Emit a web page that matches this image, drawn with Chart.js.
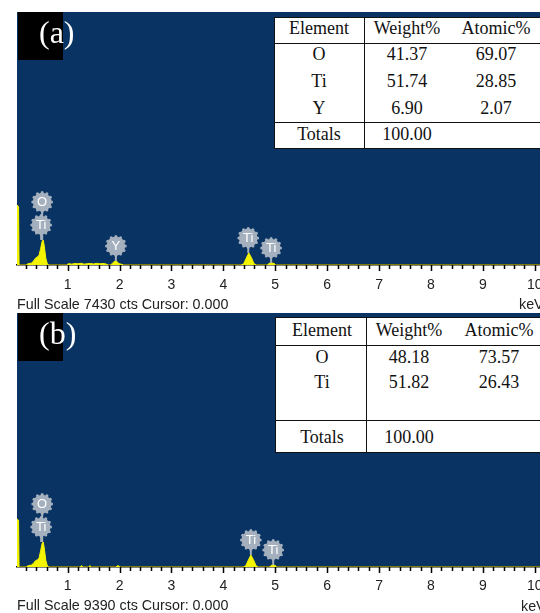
<!DOCTYPE html>
<html>
<head>
<meta charset="utf-8">
<script src="https://cdn.jsdelivr.net/npm/chart.js@4.4.1/dist/chart.umd.min.js"></script>
<style>
  html, body { margin: 0; padding: 0; background: #fff; }
  body { width: 540px; height: 613px; position: relative; overflow: hidden; }
  canvas { position: absolute; left: 0; }
  .tag { position: absolute; background: #000; color: #fff; font: 32px "Liberation Serif", "Times New Roman", serif; z-index: 3; }
  .tag span { position: absolute; left: 21px; top: 0px; line-height: 40px; }
  .cap { position: absolute; font: 14.3px "Liberation Sans", Arial, sans-serif; color: #222; white-space: nowrap; line-height: 16px; z-index: 3; }
  .tbl { position: absolute; background: #fff; border: 1px solid #111; z-index: 3; box-sizing: border-box; }
  .rule { position: absolute; background: #111; }
  .cell { position: absolute; font: 18px "Liberation Serif", "Times New Roman", serif; color: #111; white-space: nowrap; line-height: 20px; transform: translate(-50%, -50%); }
</style>
</head>
<body>
<canvas id="specA" width="540" height="308" style="top:0px"></canvas>
<canvas id="specB" width="540" height="305" style="top:308px"></canvas>

<div class="tag" style="left:18px;top:12px;width:45px;height:48px"><span>(a)</span></div>
<div class="tag" style="left:18px;top:313px;width:45px;height:48px"><span>(b)</span></div>

<div class="cap" style="left:17px;top:296px">Full Scale 7430 cts Cursor: 0.000</div>
<div class="cap" style="left:519px;top:296px">keV</div>
<div class="cap" style="left:17px;top:597px">Full Scale 9390 cts Cursor: 0.000</div>
<div class="cap" style="left:521px;top:598px">keV</div>

<div id="tableA"></div>
<div id="tableB"></div>

<script>
// ---- Spectrum (a): energy (keV) and counts ----
const energyA = [0.025, 0.055, 0.065, 0.10, 0.20, 0.24, 0.30, 0.34, 0.38, 0.42, 0.45, 0.48, 0.51, 0.53, 0.55, 0.58, 0.61, 0.64,
                 0.98, 1.02, 1.08, 1.14, 1.20, 1.26, 1.32, 1.38, 1.44, 1.50, 1.56, 1.62, 1.68, 1.74, 1.78,
                 1.82, 1.86, 1.89, 1.92, 1.95, 1.99, 2.04, 2.08,
                 4.34, 4.39, 4.44, 4.49, 4.54, 4.59, 4.64,
                 4.85, 4.88, 4.93, 4.98, 5.01, 10.1];
const countsA = [1760, 1720, 0, 0, 0, 40, 55, 110, 200, 240, 290, 480, 700, 735, 560, 200, 30, 0,
                 0, 40, 25, 45, 35, 50, 25, 40, 45, 30, 50, 35, 45, 30, 0,
                 0, 40, 95, 120, 100, 40, 20, 0,
                 0, 30, 200, 355, 220, 40, 0,
                 0, 50, 60, 45, 0, 0];
const fullScaleA = 7430;

// ---- Spectrum (b) ----
const energyB = [0.025, 0.055, 0.065, 0.10, 0.20, 0.24, 0.30, 0.34, 0.38, 0.42, 0.45, 0.48, 0.51, 0.53, 0.55, 0.58, 0.61, 0.64,
                 1.24, 1.27, 1.30, 1.40, 1.43, 1.46, 1.93, 1.97, 2.01,
                 4.38, 4.43, 4.48, 4.53, 4.58, 4.63, 4.67,
                 4.89, 4.92, 4.96, 5.00, 5.03, 10.1];
const countsB = [1775, 1730, 0, 0, 0, 50, 70, 130, 230, 270, 330, 600, 880, 925, 700, 250, 40, 0,
                 0, 50, 0, 0, 50, 0, 0, 55, 0,
                 0, 40, 250, 445, 270, 50, 0,
                 0, 60, 75, 55, 0, 0];
const fullScaleB = 9390;

// ---- Element markers: symbol, energy (keV), stack level above the peak ----
const markersA = [
  { el: 'Ti', keV: 0.49, level: 0 }, { el: 'O', keV: 0.51, level: 1 },
  { el: 'Y', keV: 1.93, level: 0 },
  { el: 'Ti', keV: 4.48, level: 0 }, { el: 'Ti', keV: 4.92, level: 0 }
];
const markersB = [
  { el: 'Ti', keV: 0.49, level: 0 }, { el: 'O', keV: 0.51, level: 1 },
  { el: 'Ti', keV: 4.53, level: 0 }, { el: 'Ti', keV: 4.96, level: 0 }
];

// ---- Axis ticks ----
const majorKeV = [1, 2, 3, 4, 5, 6, 7, 8, 9, 10];
const minorStep = 0.2;

// ---- Quantification tables ----
const tableHeader = ['Element', 'Weight%', 'Atomic%'];
const elementsA = ['O', 'Ti', 'Y'];
const weightA = ['41.37', '51.74', '6.90'];
const atomicA = ['69.07', '28.85', '2.07'];
const totalA = '100.00';
const elementsB = ['O', 'Ti'];
const weightB = ['48.18', '51.82'];
const atomicB = ['73.57', '26.43'];
const totalB = '100.00';

const PANEL_BLUE = '#093363';
const SPEC_YELLOW = '#f4f400';
const MARK_GREY = '#a5b0be';

function tickList() {
  const list = [];
  for (let i = 1; i * minorStep <= 10.0001; i++) list.push(+(i * minorStep).toFixed(2));
  return list;
}
function isMajor(v) { return majorKeV.some(m => Math.abs(m - v) < 1e-6); }

// blue plot panel behind the spectrum
const panelPlugin = {
  id: 'panel',
  beforeDraw(chart) {
    const { ctx, chartArea: a } = chart;
    ctx.save();
    ctx.fillStyle = PANEL_BLUE;
    ctx.fillRect(a.left, a.top, a.right - a.left, a.bottom - a.top);
    ctx.restore();
  }
};

// major / minor tick marks hanging below the axis line
const tickPlugin = {
  id: 'keVTicks',
  afterDraw(chart) {
    const xs = chart.scales.x, ctx = chart.ctx;
    ctx.save();
    ctx.strokeStyle = '#000';
    ctx.lineWidth = 1.5;
    ctx.beginPath();
    xs.ticks.forEach(t => {
      const px = Math.round(xs.getPixelForValue(t.value)) + 0.5;
      ctx.moveTo(px, xs.top);
      ctx.lineTo(px, xs.top + (isMajor(t.value) ? 6 : 4));
    });
    ctx.stroke();
    ctx.restore();
  }
};

// element badges with stems down to the peak
function markerPlugin(markers) {
  return {
    id: 'markers',
    afterDatasetsDraw(chart) {
      const ctx = chart.ctx, xs = chart.scales.x, ys = chart.scales.y;
      const ds = chart.data.datasets[0].data;
      const placed = markers.map(m => {
        let peak = 0;
        ds.forEach(p => { if (Math.abs(p.x - m.keV) <= 0.07 && p.y > peak) peak = p.y; });
        const px = xs.getPixelForValue(m.keV);
        const foot = ys.getPixelForValue(peak);
        return { m, px, foot, cy: foot - 15 - m.level * 23 };
      });
      ctx.save();
      ctx.strokeStyle = MARK_GREY;
      ctx.lineWidth = 2;
      placed.forEach(p => {
        ctx.beginPath();
        ctx.moveTo(p.px, p.cy);
        ctx.lineTo(p.px, p.foot);
        ctx.stroke();
      });
      placed.forEach(p => {
        ctx.fillStyle = MARK_GREY;
        ctx.beginPath();
        ctx.arc(p.px, p.cy, 9.3, 0, Math.PI * 2);
        ctx.fill();
        for (let k = 0; k < 12; k++) {
          const a = k * Math.PI / 6;
          ctx.beginPath();
          ctx.arc(p.px + Math.cos(a) * 9.4, p.cy + Math.sin(a) * 9.4, 1.5, 0, Math.PI * 2);
          ctx.fill();
        }
        ctx.fillStyle = '#fff';
        ctx.font = '13px "Liberation Sans", Arial, sans-serif';
        ctx.textAlign = 'center';
        ctx.textBaseline = 'middle';
        ctx.fillText(p.m.el, p.px, p.cy + 0.5);
      });
      ctx.restore();
    }
  };
}

function makeSpectrum(canvasId, energy, counts, fullScale, markers, areaTop, axisH, labelPad) {
  const points = energy.map((e, i) => ({ x: e, y: counts[i] }));
  return new Chart(document.getElementById(canvasId), {
    type: 'line',
    data: {
      datasets: [{
        data: points,
        borderColor: SPEC_YELLOW,
        backgroundColor: SPEC_YELLOW,
        borderWidth: 1,
        fill: 'origin',
        pointRadius: 0,
        tension: 0
      }]
    },
    options: {
      responsive: false,
      animation: false,
      devicePixelRatio: 1,
      layout: { padding: { left: 17, right: 0, top: areaTop, bottom: 0 } },
      plugins: { legend: { display: false }, tooltip: { enabled: false } },
      scales: {
        x: {
          type: 'linear', min: 0.025, max: 10.1, z: 1,
          afterBuildTicks(s) { s.ticks = tickList().map(v => ({ value: v })); },
          afterFit(s) { s.height = axisH; s.paddingLeft = 0; s.paddingRight = 0; },
          grid: { display: false, drawTicks: false, drawOnChartArea: false },
          border: { display: true, color: '#000', width: 1.5 },
          ticks: {
            autoSkip: false, maxRotation: 0, minRotation: 0, padding: labelPad,
            color: '#222',
            font: { family: '"Liberation Sans", Arial, sans-serif', size: 14 },
            callback(v) { return isMajor(v) ? String(Math.round(v)) : ''; }
          }
        },
        y: { display: false, min: 0, max: fullScale }
      }
    },
    plugins: [panelPlugin, tickPlugin, markerPlugin(markers)]
  });
}

makeSpectrum('specA', energyA, countsA, fullScaleA, markersA, 12, 43, 12);
makeSpectrum('specB', energyB, countsB, fullScaleB, markersB, 5, 46, 11);

// quantification table overlays
function buildTable(hostId, elements, weight, atomic, total, g) {
  const host = document.getElementById(hostId);
  const box = document.createElement('div');
  box.className = 'tbl';
  box.style.left = g.left + 'px';
  box.style.top = g.top + 'px';
  box.style.width = (g.right - g.left) + 'px';
  box.style.height = (g.bottom - g.top) + 'px';
  host.appendChild(box);
  const rule = (x, y, w, h) => {
    const r = document.createElement('div');
    r.className = 'rule';
    r.style.left = (x - g.left - 1) + 'px'; r.style.top = (y - g.top - 1) + 'px';
    r.style.width = w + 'px'; r.style.height = h + 'px';
    box.appendChild(r);
  };
  rule(g.left, g.headLine, g.right - g.left, 1);
  rule(g.left, g.totLine, g.right - g.left, 1);
  rule(g.colLine, g.top, 1, g.bottom - g.top);
  const cell = (txt, cx, cy) => {
    const c = document.createElement('div');
    c.className = 'cell';
    c.textContent = txt;
    c.style.left = (cx - g.left - 1) + 'px';
    c.style.top = (cy - g.top - 1) + 'px';
    box.appendChild(c);
  };
  tableHeader.forEach((h, i) => cell(h, g.cols[i], g.rows[0]));
  elements.forEach((e, r) => {
    cell(e, g.cols[0], g.rows[r + 1]);
    cell(weight[r], g.cols[1], g.rows[r + 1]);
    cell(atomic[r], g.cols[2], g.rows[r + 1]);
  });
  cell('Totals', g.cols[0], g.rows[elements.length + 1]);
  cell(total, g.cols[1], g.rows[elements.length + 1]);
}

buildTable('tableA', elementsA, weightA, atomicA, totalA, {
  left: 274, top: 17, right: 543, bottom: 149, headLine: 43, totLine: 122, colLine: 364,
  cols: [319, 407, 496], rows: [28, 53.5, 81, 107.5, 134]
});
buildTable('tableB', elementsB, weightB, atomicB, totalB, {
  left: 275, top: 317, right: 543, bottom: 453, headLine: 345, totLine: 420, colLine: 366,
  cols: [322, 409, 499], rows: [330, 357, 382, 437]
});
</script>
</body>
</html>
